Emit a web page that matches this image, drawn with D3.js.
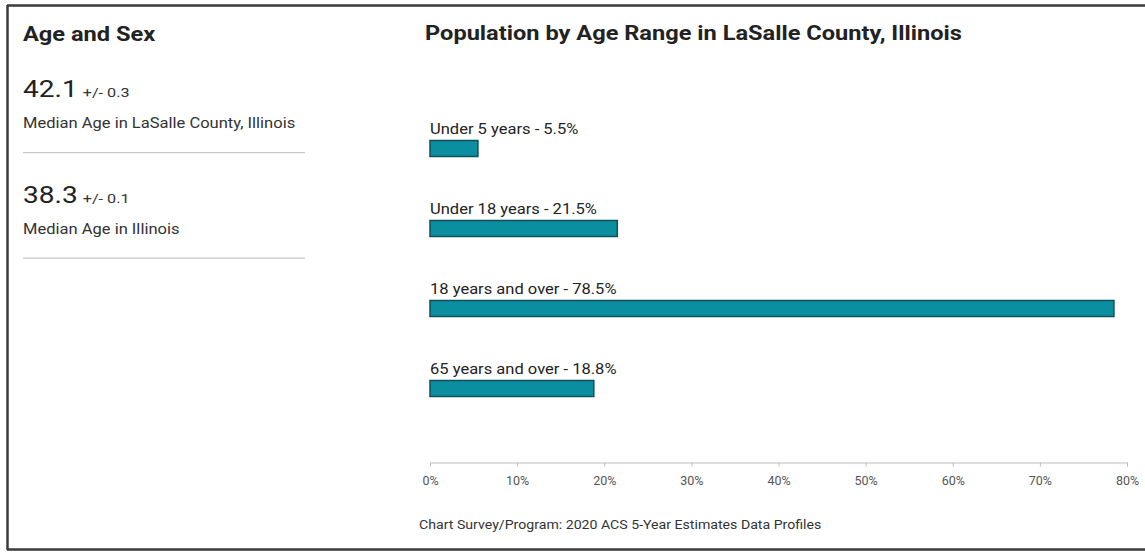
<!DOCTYPE html>
<html>
<head>
<meta charset="utf-8">
<style>
  body { margin: 0; background: #fff; }
  svg { display: block; font-family: Roboto, "Noto Sans", sans-serif; }
</style>
</head>
<body>
<svg id="chart" width="1145" height="553"></svg>
<script src="https://cdn.jsdelivr.net/npm/d3@7/dist/d3.min.js"></script>
<script>
// age ranges and their share of population (%)
var categories = ["Under 5 years", "Under 18 years", "18 years and over", "65 years and over"];
var values = [5.5, 21.5, 78.5, 18.8];
var tickValues = [0, 10, 20, 30, 40, 50, 60, 70, 80];

// median age side panel
var medianValues = ["42.1", "38.3"];
var medianMoe = ["+/- 0.3", "+/- 0.1"];
var medianLabels = ["Median Age in LaSalle County, Illinois", "Median Age in Illinois"];

var svg = d3.select("#chart");

// the source picture is a bit wider than the fonts we have, so stretch text
function stretch(sel, factor) {
  sel.each(function () {
    var w = this.getComputedTextLength();
    d3.select(this)
      .attr("textLength", w * factor)
      .attr("lengthAdjust", "spacingAndGlyphs");
  });
  return sel;
}

// frame
svg.append("line").attr("x1", 7).attr("x2", 1145).attr("y1", 5.5).attr("y2", 5.5)
    .attr("stroke", "#3a3a3a").attr("stroke-width", 2.5);
svg.append("line").attr("x1", 7).attr("x2", 1145).attr("y1", 549.5).attr("y2", 549.5)
    .attr("stroke", "#3a3a3a").attr("stroke-width", 2.5);
svg.append("line").attr("x1", 7.5).attr("x2", 7.5).attr("y1", 5).attr("y2", 550)
    .attr("stroke", "#3a3a3a").attr("stroke-width", 2.5);

// left panel
stretch(svg.append("text")
    .attr("x", 23).attr("y", 40.5)
    .attr("font-size", 20).attr("font-weight", 700).attr("fill", "#222")
    .text("Age and Sex"), 1.18);

var panel = svg.append("g");
medianValues.forEach(function (v, i) {
  var top = i * 105.5;
  var num = stretch(panel.append("text")
      .attr("x", 23).attr("y", 97 + top)
      .attr("font-size", 23).attr("fill", "#222")
      .text(v), 1.22);

  stretch(panel.append("text")
      .attr("x", 23 + +num.attr("textLength") + 5).attr("y", 97 + top)
      .attr("font-size", 13.5).attr("fill", "#333")
      .text(medianMoe[i]), 1.2);

  stretch(panel.append("text")
      .attr("x", 23).attr("y", 128.3 + top)
      .attr("font-size", 14).attr("fill", "#333")
      .text(medianLabels[i]), 1.18);

  panel.append("line")
      .attr("x1", 23).attr("x2", 305)
      .attr("y1", 152.7 + top).attr("y2", 152.7 + top)
      .attr("stroke", "#c8c8c8").attr("stroke-width", 1.3);
});

// bar chart
stretch(svg.append("text")
    .attr("x", 425).attr("y", 40)
    .attr("font-size", 20).attr("font-weight", 700).attr("fill", "#222")
    .text("Population by Age Range in LaSalle County, Illinois"), 1.18);

var x = d3.scaleLinear()
    .domain([0, 80])
    .range([430, 1127]);

var y = d3.scaleBand()
    .domain(categories)
    .range([112, 432]);

var rows = svg.append("g").selectAll("g")
    .data(categories)
    .enter().append("g");

stretch(rows.append("text")
    .attr("x", x(0))
    .attr("y", function (d) { return y(d) + 22; })
    .attr("font-size", 14).attr("fill", "#222")
    .text(function (d, i) { return d + " - " + values[i] + "%"; }), 1.18);

rows.append("rect")
    .attr("x", x(0))
    .attr("y", function (d) { return y(d) + 28.5; })
    .attr("width", function (d, i) { return x(values[i]) - x(0); })
    .attr("height", 16)
    .attr("fill", "#0b8e9f")
    .attr("stroke", "#10505a")
    .attr("stroke-width", 1.5);

var axis = svg.append("g")
    .attr("transform", "translate(0,462.5)")
    .call(d3.axisBottom(x)
      .tickValues(tickValues)
      .tickSizeOuter(0)
      .tickSize(4)
      .tickFormat(function (d) { return d + "%"; }));

axis.select(".domain").attr("stroke", "#bdbdbd");
axis.selectAll(".tick line").attr("stroke", "#bdbdbd");
axis.selectAll(".tick text")
    .attr("y", 14)
    .attr("font-family", "Roboto, sans-serif")
    .attr("font-size", 12.5).attr("fill", "#555");

stretch(svg.append("text")
    .attr("x", 419).attr("y", 529)
    .attr("font-size", 12.5).attr("fill", "#333")
    .text("Chart Survey/Program: 2020 ACS 5-Year Estimates Data Profiles"), 1.13);
</script>
</body>
</html>
